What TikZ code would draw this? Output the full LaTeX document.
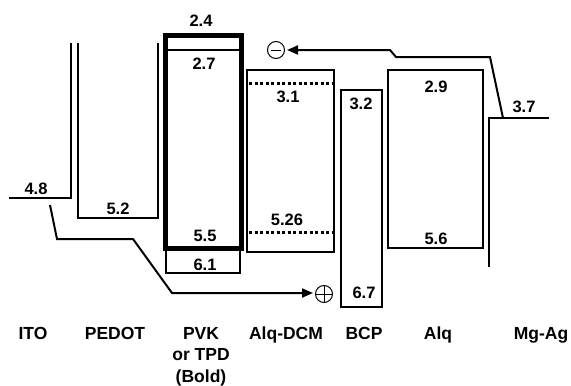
\documentclass[tikz,border=0pt]{standalone}
\usepackage{fontspec}
\setmainfont{Liberation Sans}
\usetikzlibrary{arrows.meta}

\begin{document}
\begin{tikzpicture}[
    x=1pt, y=-1pt,
    font=\fontsize{16.5}{21}\selectfont\bfseries,
    >={Triangle[length=11pt,width=9pt]},
    level/.style={
        draw=black,
        line width=2pt
    },
    boldlevel/.style={
        draw=black,
        line width=5pt
    },
    dotlevel/.style={
        draw=black,
        line width=3pt,
        dash pattern=on 3pt off 2.5pt
    },
    val/.style={
        anchor=base,
        inner sep=0pt
    },
    layer/.style={
        anchor=base,
        inner sep=0pt,
        align=center,
        font=\fontsize{17.5}{21.5}\selectfont\bfseries
    },
    carrier/.style={
        draw=black,
        circle,
        line width=1pt,
        minimum size=17pt,
        inner sep=0pt
    },
    electron/.style={
        carrier,
        path picture={\draw[line width=1pt] ([xshift=-5pt]path picture bounding box.center) -- ([xshift=5pt]path picture bounding box.center);}
    },
    hole/.style={
        carrier,
        path picture={\draw[line width=1pt] (path picture bounding box.west) -- (path picture bounding box.east)
            (path picture bounding box.north) -- (path picture bounding box.south);}
    },
    transport/.style={
        ->,
        line width=2pt
    }
]
\useasboundingbox (0,0) rectangle (571,386);

% Levels - Anode side
\draw[level] (9,198) -- (71,198) -- (71,43);
\draw[level] (78,43) -- (78,218) -- (158,218) -- (158,43);
\draw[level] (166,248) rectangle (240,273);
\draw[level] (165,50) -- (241,50);
\draw[boldlevel] (165,35) rectangle (241,248);

% Levels - Emitter and cathode side
\draw[level] (247,70) rectangle (334,252);
\draw[dotlevel] (249,83) -- (332,83);
\draw[dotlevel] (249,232) -- (332,232);
\draw[level] (341,90) rectangle (382,307);
\draw[level] (388,70) rectangle (483,248);
\draw[level] (489,267) -- (489,118) -- (549,118);

% Energy values
\node[val] (ito_wf) at (36,194) {4.8};
\node[val] (pedot_wf) at (118,214) {5.2};
\node[val] (pvk_lumo) at (201,26) {2.4};
\node[val] (tpd_lumo) at (204,69) {2.7};
\node[val] (tpd_homo) at (205,241) {5.5};
\node[val] (pvk_homo) at (205,270) {6.1};
\node[val] (dcm_lumo) at (288,102) {3.1};
\node[val] (dcm_homo) at (287,225) {5.26};
\node[val] (bcp_lumo) at (361,109) {3.2};
\node[val] (bcp_homo) at (364,298) {6.7};
\node[val] (alq_lumo) at (436,92) {2.9};
\node[val] (alq_homo) at (436,244) {5.6};
\node[val] (mgag_wf) at (524,112) {3.7};

% Layer names (multi-line node sits on its last line)
\node[layer] (l_ito) at (33,339) {ITO};
\node[layer] (l_pedot) at (115,339) {PEDOT};
\node[layer] (l_pvk) at (201,382) {PVK\\or TPD\\(Bold)};
\node[layer] (l_dcm) at (286,339) {Alq-DCM};
\node[layer] (l_bcp) at (364,339) {BCP};
\node[layer] (l_alq) at (438,339) {Alq};
\node[layer] (l_mgag) at (541,339) {Mg-Ag};

% Carriers
\node[electron] (minus) at (276,50) {};
\node[hole] (plus) at (324,294) {};
\coordinate (e_start) at (503,118);
\coordinate (h_start) at (50,205);

% Arrows
\draw[transport, shorten >=2pt] (e_start) -- (490,57) -- (396,57) -- (390,50) -- (minus);
\draw[transport, shorten >=2pt] (h_start) -- (57,239) -- (133,239) -- (172,293) -- (plus.west |- 0,293);

\end{tikzpicture}
\end{document}
